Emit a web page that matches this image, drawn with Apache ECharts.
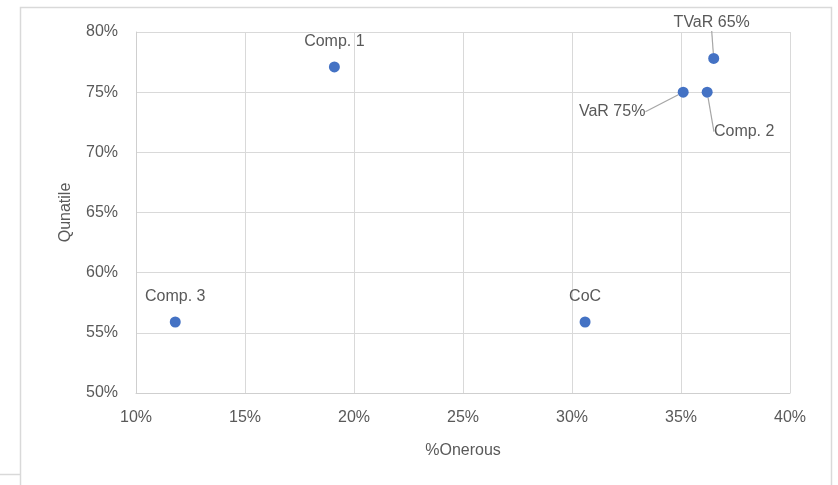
<!DOCTYPE html>
<html>
<head>
<meta charset="utf-8">
<script src="https://cdn.jsdelivr.net/npm/echarts@6/dist/echarts.min.js"></script>
<style>
  html, body { margin: 0; padding: 0; background: #fff; }
  #main { width: 838px; height: 485px; }
</style>
</head>
<body>
<div id="main"></div>
<script>
// data
var names = ['Comp. 1', 'Comp. 2', 'Comp. 3', 'CoC', 'VaR 75%', 'TVaR 65%'];
var onerous = [19.1, 36.2, 11.8, 30.6, 35.1, 36.5];
var quantile = [77.1, 75.0, 55.9, 55.9, 75.0, 77.8];

// label offsets for the crowded ones (dx, dy from the default top spot)
var labelShift = {
  'Comp. 2': [37, 65],
  'VaR 75%': [-71, 45],
  'TVaR 65%': [-2, -10]
};

var font = 'Liberation Sans';
var grey = '#595959';

var points = [];
for (var i = 0; i < names.length; i++) {
  var item = { name: names[i], value: [onerous[i], quantile[i]] };
  if (labelShift[names[i]]) {
    item.labelLine = { show: true };
  }
  points.push(item);
}

var myChart = echarts.init(document.getElementById('main'));

var option = {
  backgroundColor: '#fff',
  animation: false,
  textStyle: { fontFamily: font },
  grid: { left: 136, right: 48, top: 32, bottom: 92 },
  xAxis: {
    type: 'value',
    min: 10, max: 40, interval: 5,
    name: '%Onerous',
    nameLocation: 'middle',
    nameGap: 50,
    nameTextStyle: { color: grey, fontSize: 16, fontFamily: font },
    axisLine: { show: true, lineStyle: { color: '#cfcfcf' } },
    axisTick: { show: false },
    splitLine: { show: true, lineStyle: { color: '#d9d9d9' } },
    axisLabel: {
      color: grey, fontSize: 16, fontFamily: font, margin: 17,
      formatter: function (v) { return v + '%'; }
    }
  },
  yAxis: {
    type: 'value',
    min: 50, max: 80, interval: 5,
    name: 'Qunatile',
    nameLocation: 'middle',
    nameGap: 62,
    nameTextStyle: { color: grey, fontSize: 16, fontFamily: font },
    axisLine: { show: true, lineStyle: { color: '#cfcfcf' } },
    axisTick: { show: false },
    splitLine: { show: true, lineStyle: { color: '#d9d9d9' } },
    axisLabel: {
      color: grey, fontSize: 16, fontFamily: font, margin: 18,
      formatter: function (v) { return v + '%'; }
    }
  },
  series: [{
    type: 'scatter',
    symbolSize: 11,
    itemStyle: { color: '#4472C4', opacity: 1 },
    data: points,
    label: {
      show: true,
      position: 'top',
      distance: 12,
      color: grey,
      fontSize: 16,
      fontFamily: font,
      formatter: '{b}'
    },
    labelLine: {
      lineStyle: { color: '#a6a6a6', width: 1.2, opacity: 1 }
    },
    labelLayout: function (params) {
      var s = labelShift[names[params.dataIndex]];
      if (s) return { dx: s[0], dy: s[1] };
      return {};
    }
  }],
  graphic: [
    // sheet frame around the chart
    {
      type: 'polyline',
      shape: { points: [[20.5, 485], [20.5, 7.5], [831.5, 7.5], [831.5, 485]] },
      style: { stroke: '#d9d9d9', lineWidth: 1.5, fill: null },
      silent: true
    },
    {
      type: 'line',
      shape: { x1: 0, y1: 474.5, x2: 20, y2: 474.5 },
      style: { stroke: '#d9d9d9', lineWidth: 1.5 },
      silent: true
    }
  ]
};

myChart.setOption(option);
</script>
</body>
</html>
